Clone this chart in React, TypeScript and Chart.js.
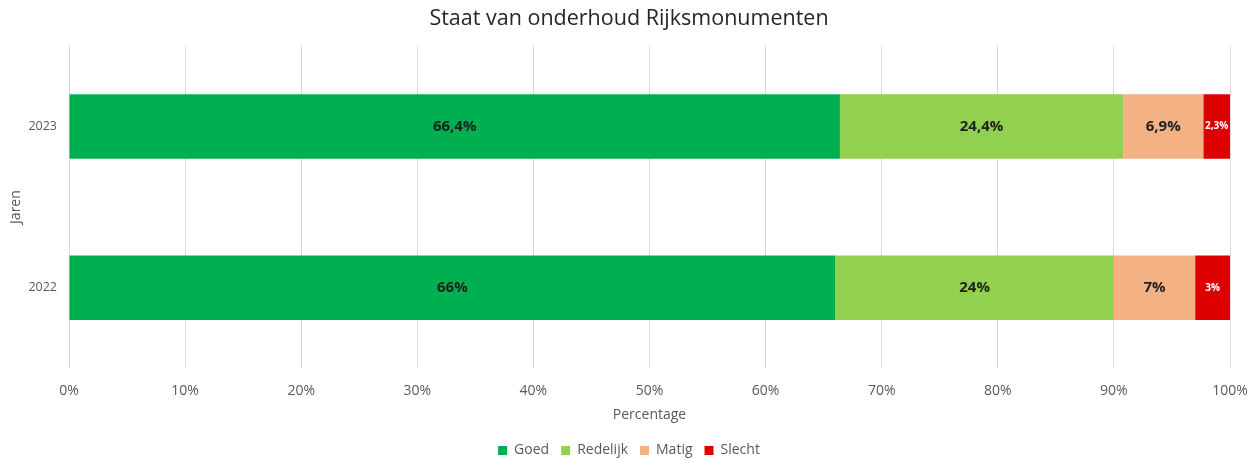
import React, { useEffect, useRef } from "react";
import { Chart, registerables } from "chart.js";

Chart.register(...registerables);

const years = ["2023", "2022"];
const goed = [66.4, 66];
const redelijk = [24.4, 24];
const matig = [6.9, 7];
const slecht = [2.3, 3];
const xTicks = [0, 10, 20, 30, 40, 50, 60, 70, 80, 90, 100];

const FONT = "'Open Sans', 'Noto Sans', sans-serif";

const fmt = (v: number) => String(v).replace(".", ",") + "%";

const labelPlugin = {
  id: "segLabels",
  afterDatasetsDraw(chart: any) {
    const ctx = chart.ctx;
    chart.data.datasets.forEach((ds: any, i: number) => {
      const meta = chart.getDatasetMeta(i);
      meta.data.forEach((el: any, j: number) => {
        const v = ds.data[j];
        const cx = (el.x + el.base) / 2;
        const cy = el.y;
        ctx.save();
        const small = i === 3;
        ctx.font = small ? `bold 10px ${FONT}` : `bold 15px ${FONT}`;
        ctx.fillStyle = small ? "#ffffff" : "#1f1f1f";
        ctx.textAlign = "center";
        ctx.textBaseline = "middle";
        ctx.fillText(fmt(v), cx, cy);
        ctx.restore();
      });
    });
  },
};

export default function App() {
  const ref = useRef<HTMLCanvasElement | null>(null);
  useEffect(() => {
    if (!ref.current) return;
    const chart = new Chart(ref.current, {
      type: "bar",
      data: {
        labels: years,
        datasets: [
          { label: "Goed", data: goed, backgroundColor: "#00B050" },
          { label: "Redelijk", data: redelijk, backgroundColor: "#92D050" },
          { label: "Matig", data: matig, backgroundColor: "#F4B183" },
          { label: "Slecht", data: slecht, backgroundColor: "#DC0000" },
        ],
      },
      options: {
        indexAxis: "y",
        animation: false,
        responsive: false,
        maintainAspectRatio: false,
        layout: { padding: { left: 0, right: 0, top: 0, bottom: -7.4 } },
        datasets: { bar: { barPercentage: 0.4, categoryPercentage: 1 } },
        scales: {
          x: {
            stacked: true,
            min: 0,
            max: 100,
            afterBuildTicks: (scale: any) => {
              scale.ticks = xTicks.map((v) => ({ value: v }));
            },
            ticks: {
              callback: (v: any) => v + "%",
              color: "#595959",
              font: { family: FONT, size: 14 },
              padding: 14.5,
            },
            grid: { color: "#D9D9D9", drawTicks: false },
            border: { display: false },
            title: {
              display: true,
              text: "Percentage",
              color: "#595959",
              font: { family: FONT, size: 14 },
              padding: { top: 4, bottom: 8.2 },
            },
            afterFit: (scale: any) => {
              scale.height = 63.1;
              scale.paddingRight = 28;
            },
          },
          y: {
            stacked: true,
            ticks: {
              color: "#595959",
              font: { family: FONT, size: 12.5 },
              padding: 12,
            },
            grid: { display: false, drawTicks: false },
            border: { display: false },
            title: {
              display: true,
              text: "Jaren",
              color: "#595959",
              font: { family: FONT, size: 14 },
              padding: { top: 7.5, bottom: 6 },
            },
            afterFit: (scale: any) => {
              scale.width = 69;
            },
          },
        },
        plugins: {
          title: {
            display: true,
            text: "Staat van onderhoud Rijksmonumenten",
            color: "#262626",
            font: { family: FONT, size: 21.5, weight: "normal" },
            padding: { top: 6, bottom: 14 },
          },
          legend: {
            position: "bottom",
            labels: {
              boxWidth: 9,
              boxHeight: 9,
              color: "#595959",
              font: { family: FONT, size: 14 },
              padding: 12,
            },
          },
          tooltip: { enabled: false },
        },
      },
      plugins: [labelPlugin],
    });
    return () => chart.destroy();
  }, []);
  return (
    <div style={{ position: "absolute", left: 0, top: 0, width: 1258, height: 460, background: "#fff" }}>
      <canvas ref={ref} width={1258} height={460} style={{ width: 1258, height: 460 }} />
    </div>
  );
}
